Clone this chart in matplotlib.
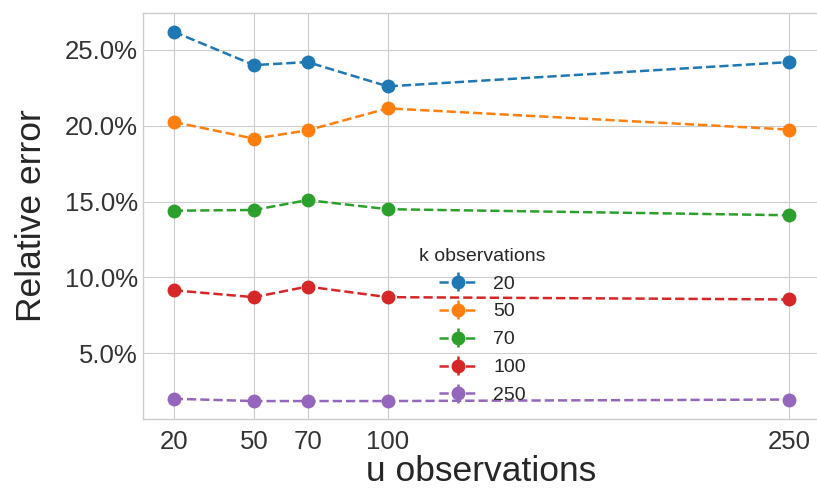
import matplotlib
matplotlib.use("Agg")
import matplotlib.pyplot as plt
from matplotlib.ticker import FuncFormatter

plt.style.use("seaborn-v0_8-whitegrid")
plt.rcParams['font.family'] = ['Liberation Sans', 'DejaVu Sans']

u_obs = [20, 50, 70, 100, 250]
k_labels = ["20", "50", "70", "100", "250"]

# relative error in %, one list per k observations
err_k20 = [26.2, 24.0, 24.2, 22.6, 24.2]
err_k50 = [20.25, 19.15, 19.7, 21.15, 19.75]
err_k70 = [14.4, 14.45, 15.1, 14.5, 14.1]
err_k100 = [9.15, 8.7, 9.4, 8.7, 8.55]
err_k250 = [2.0, 1.85, 1.85, 1.85, 1.95]
series = [err_k20, err_k50, err_k70, err_k100, err_k250]

couleurs = ["#1f77b4", "#ff7f0e", "#2ca02c", "#d62728", "#9467bd"]

fig = plt.figure(figsize=(8.17, 4.9), dpi=100)
ax = fig.add_axes([0.175, 0.145, 0.8286, 0.8286])

for vals, lab, c in zip(series, k_labels, couleurs):
    ax.errorbar(u_obs, vals, yerr=[0]*len(vals), fmt="o--", color=c,
                markersize=9, linewidth=1.8, elinewidth=1.8, label=lab)

ax.set_xlim(8.5, 261.5)
ax.set_ylim(0.67, 27.44)
ax.set_xticks(u_obs)
ax.set_yticks([5, 10, 15, 20, 25])
ax.yaxis.set_major_formatter(FuncFormatter(lambda v, p: "%.1f%%" % v))
ax.tick_params(labelsize=18.5, colors="#333333")
ax.tick_params(axis="x", pad=8)
ax.set_xlabel("u observations", fontsize=25.5, color="#262626", labelpad=1)
ax.set_ylabel("Relative error", fontsize=25.5, color="#262626", labelpad=12)

leg = ax.legend(title="k observations", loc="upper left",
                bbox_to_anchor=(0.382, 0.465), frameon=False,
                fontsize=14, title_fontsize=14, labelspacing=0.53)

fig.savefig("out.png", dpi=100)
